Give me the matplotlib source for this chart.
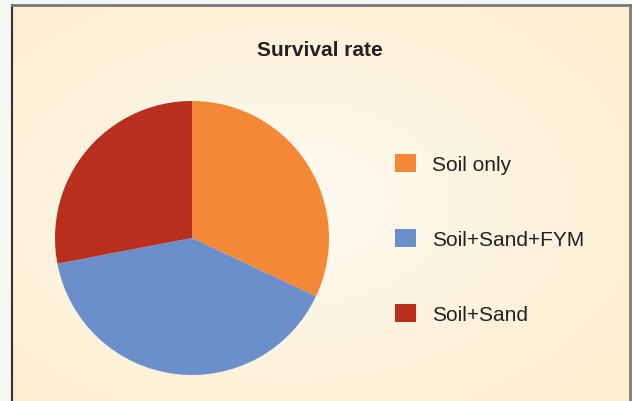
import numpy as np
import matplotlib.pyplot as plt

plt.rcParams['font.family'] = ['Liberation Sans', 'DejaVu Sans']

# data
labels = ['Soil only', 'Soil+Sand+FYM', 'Soil+Sand']
values = [32, 40, 28]
colors = ['#f58837', '#6a8fca', '#b92f1e']

W, H = 632, 402
fig = plt.figure(figsize=(W / 100, H / 100), dpi=100)
fig.patch.set_facecolor('#f4f8f3')

# panel background with soft radial gradient
bg = fig.add_axes([12 / W, 0, 618 / W, (H - 6) / H])
yy, xx = np.mgrid[0:1:200j, 0:1:300j]
d = np.sqrt(((xx - 0.45) / 0.9) ** 2 + ((yy - 0.5) / 0.9) ** 2)
d = np.clip(d / 0.75, 0, 1)
c0 = np.array([255, 251, 242]) / 255
c1 = np.array([252, 238, 208]) / 255
img = c0[None, None, :] * (1 - d[..., None]) + c1[None, None, :] * d[..., None]
bg.imshow(img, aspect='auto', extent=[0, 1, 0, 1], origin='lower')
bg.set_xlim(0, 1)
bg.set_ylim(0, 1)
bg.set_xticks([])
bg.set_yticks([])
for s in bg.spines.values():
    s.set_visible(False)
bg.spines['left'].set_visible(True)
bg.spines['left'].set_color('#333333')
bg.spines['left'].set_linewidth(1.5)
bg.spines['top'].set_visible(True)
bg.spines['top'].set_color('#7a7a7a')
bg.spines['top'].set_linewidth(2)
bg.spines['right'].set_visible(True)
bg.spines['right'].set_color('#7a7a7a')
bg.spines['right'].set_linewidth(2)

fig.text(320 / W, 1 - 50 / H, 'Survival rate', ha='center', va='center',
         fontsize=15, fontweight='bold', color='#222222')

# pie
r = 137
cx, cy = 192, 239
ax = fig.add_axes([(cx - r) / W, (H - cy - r) / H, 2 * r / W, 2 * r / H])
wedges, _ = ax.pie(values, colors=colors, startangle=90, counterclock=False,
                   wedgeprops=dict(linewidth=0))
ax.set_xlim(-1, 1)
ax.set_ylim(-1, 1)
ax.set_aspect('equal')

leg = fig.legend(wedges, labels, loc='upper left',
                 bbox_to_anchor=(395 / W, 1 - 154.5 / H), frameon=False,
                 fontsize=15, handlelength=1.0, handleheight=1.0,
                 handletextpad=0.8, labelspacing=2.62, borderpad=0,
                 borderaxespad=0)
for t in leg.get_texts():
    t.set_color('#222222')

fig.savefig('out.png', dpi=100, facecolor=fig.get_facecolor())
